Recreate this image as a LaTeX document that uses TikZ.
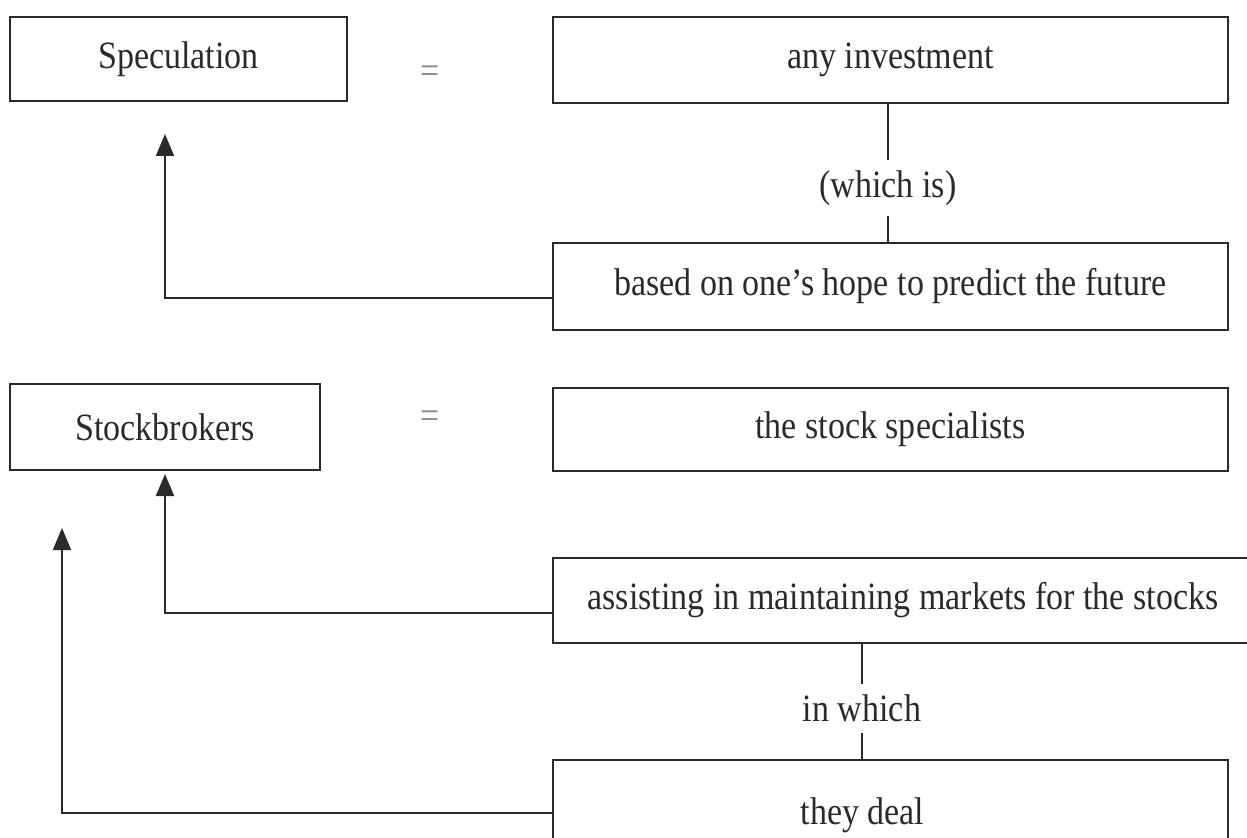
\documentclass[tikz,border=0pt]{standalone}
\usepackage{fontspec}
\setmainfont{Liberation Serif}[FakeStretch=0.88]
\usetikzlibrary{arrows.meta}
\definecolor{ink}{HTML}{2A2A2A}
\definecolor{eqgray}{HTML}{8C8C8C}

\begin{document}
\begin{tikzpicture}[x=0.02cm, y=-0.02cm,
    every node/.style={font=\fontsize{22}{26}\selectfont, text=ink},
    box/.style={draw=ink, line width=1.1pt, inner sep=0pt},
    lbl/.style={inner xsep=2pt, inner ysep=6pt},
    link/.style={draw=ink, line width=1.1pt},
    arr/.style={draw=ink, line width=1.1pt, -{Triangle[length=0.44cm,width=0.36cm]}}]
    \useasboundingbox (0,0) rectangle (1247,838);

    \node[box, minimum width=6.74cm, minimum height=1.68cm] (spec) at (178.5,59) {Speculation};
    \node[box, minimum width=13.5cm, minimum height=1.72cm] (invest) at (890.5,60) {any investment};
    \node[box, minimum width=13.5cm, minimum height=1.74cm] (based) at (890.5,286.5) {based on one’s hope to predict the future};
    \node[box, minimum width=6.2cm, minimum height=1.72cm] (broker) at (165,427) {Stockbrokers};
    \node[box, minimum width=13.5cm, minimum height=1.66cm] (special) at (890.5,429.5) {the stock specialists};
    \node[box, minimum width=14cm, minimum height=1.7cm] (assist) at (903,600.5) {assisting in maintaining markets for the stocks};
    \node[box, minimum width=13.5cm, minimum height=2.2cm] (deal) at (890.5,815) {\hspace*{-1.12cm}they deal};

    \node[font=\fontsize{22}{24}\selectfont, text=eqgray] (eqa) at (430,75) {=};
    \node[font=\fontsize{22}{24}\selectfont, text=eqgray] (eqb) at (430,420) {=};

    \node[lbl] (which) at (888,188) {(which is)};
    \node[lbl] (inwhich) at (862,708) {in which};

    \coordinate (specin) at (165,134);
    \coordinate (brokin) at (165,474);
    \coordinate (brokfar) at (62,528);

    \draw[link] (invest.south -| which) -- (which);
    \draw[link] (which) -- (based.north -| which);
    \draw[link] (assist.south -| inwhich) -- (inwhich);
    \draw[link] (inwhich) -- (deal.north -| inwhich);

    \draw[arr] ([yshift=-0.23cm]based.west) -| (specin);
    \draw[arr] ([yshift=-0.25cm]assist.west) -| (brokin);
    \draw[arr] ([yshift=0.04cm]deal.west) -| (brokfar);
\end{tikzpicture}
\end{document}
